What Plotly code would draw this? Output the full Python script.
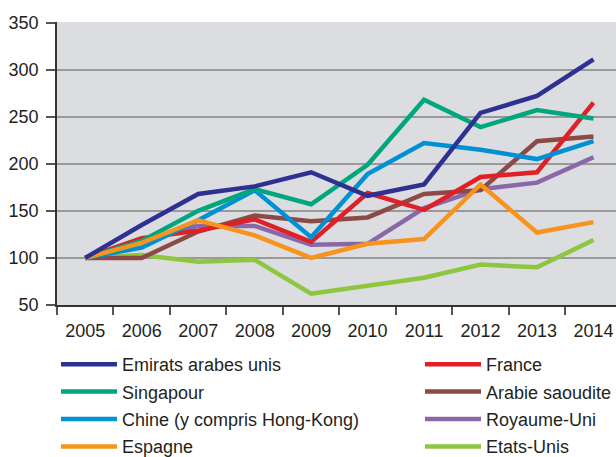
import plotly.graph_objects as go

years = ['2005', '2006', '2007', '2008', '2009', '2010', '2011', '2012', '2013', '2014']

emirats = [100, 135, 168, 176, 191, 166, 178, 254, 272, 311]
singapour = [100, 118, 150, 173, 157, 199, 268, 239, 257, 248]
chine = [100, 111, 140, 172, 122, 189, 222, 215, 205, 224]
espagne = [100, 116, 140, 124, 100, 115, 120, 178, 127, 138]
france = [100, 121, 129, 141, 117, 169, 151, 186, 191, 265]
arabie = [100, 100, 128, 145, 139, 143, 168, 172, 224, 229]
royaume_uni = [100, 119, 134, 134, 114, 115, 153, 173, 180, 207]
etats_unis = [100, 103, 96, 98, 62, 70, 79, 93, 90, 119]

y_ticks = [50, 100, 150, 200, 250, 300, 350]

series = [
    ("Emirats arabes unis", emirats, "#2e3192", "legend"),
    ("Singapour", singapour, "#00a67e", "legend"),
    ("Chine (y compris Hong-Kong)", chine, "#0091d5", "legend"),
    ("Espagne", espagne, "#f7941d", "legend"),
    ("France", france, "#e01f26", "legend2"),
    ("Arabie saoudite", arabie, "#8b4a45", "legend2"),
    ("Royaume-Uni", royaume_uni, "#8a67a8", "legend2"),
    ("Etats-Unis", etats_unis, "#8dc63f", "legend2"),
]

# drawing order: green at bottom, dark blue on top like the reference
draw_order = ["Etats-Unis", "Royaume-Uni", "Arabie saoudite", "France",
              "Chine (y compris Hong-Kong)", "Singapour", "Espagne", "Emirats arabes unis"]

fig = go.Figure()
lookup = {s[0]: s for s in series}
names_in_order = [s[0] for s in series]
for name in draw_order:
    n, vals, col, leg = lookup[name]
    fig.add_trace(go.Scatter(
        x=years, y=vals, name=n, mode="lines",
        line=dict(color=col, width=4.5),
        legend=leg, legendgroup=n,
        legendrank=names_in_order.index(n),
        hoverinfo="x+y+name",
    ))

font_family = "Liberation Sans, Arial, sans-serif"
text_col = "#231f20"

fig.update_layout(
    width=616, height=457,
    margin=dict(l=57, r=0, t=22, b=152, autoexpand=False),
    paper_bgcolor="white",
    plot_bgcolor="#dcdde0",
    font=dict(family=font_family, size=18, color=text_col),
    xaxis=dict(
        type="category",
        range=[-0.5, 9.399],
        tickson="boundaries",
        ticks="outside", ticklen=8, tickwidth=1.5, tickcolor="#555",
        showline=True, linecolor="#333", linewidth=1.5,
        showgrid=False,
        tickangle=0,
        tickfont=dict(size=18, color=text_col),
        ticklabelstandoff=9,
    ),
    yaxis=dict(
        range=[50, 350.6],
        tickvals=y_ticks,
        ticks="outside", ticklen=9, tickwidth=1.5, tickcolor="#555",
        showline=True, linecolor="#333", linewidth=1.5,
        showgrid=True, gridcolor="#999999", gridwidth=1.5,
        zeroline=False,
        tickfont=dict(size=18, color=text_col),
        ticklabelstandoff=4,
    ),
    legend=dict(
        xref="container", yref="container",
        x=56 / 616, y=1 - 346 / 457, xanchor="left", yanchor="top",
        orientation="v", bgcolor="rgba(0,0,0,0)",
        font=dict(size=18, color=text_col, family=font_family),
        tracegroupgap=1, itemwidth=56,
    ),
    legend2=dict(
        xref="container", yref="container",
        x=420 / 616, y=1 - 346 / 457, xanchor="left", yanchor="top",
        orientation="v", bgcolor="rgba(0,0,0,0)",
        font=dict(size=18, color=text_col, family=font_family),
        tracegroupgap=1, itemwidth=56,
    ),
    showlegend=True,
)

fig.write_html(
    "out.html",
    config={"displayModeBar": False},
    post_script="document.body.style.margin='0';document.body.style.overflow='hidden';",
)
